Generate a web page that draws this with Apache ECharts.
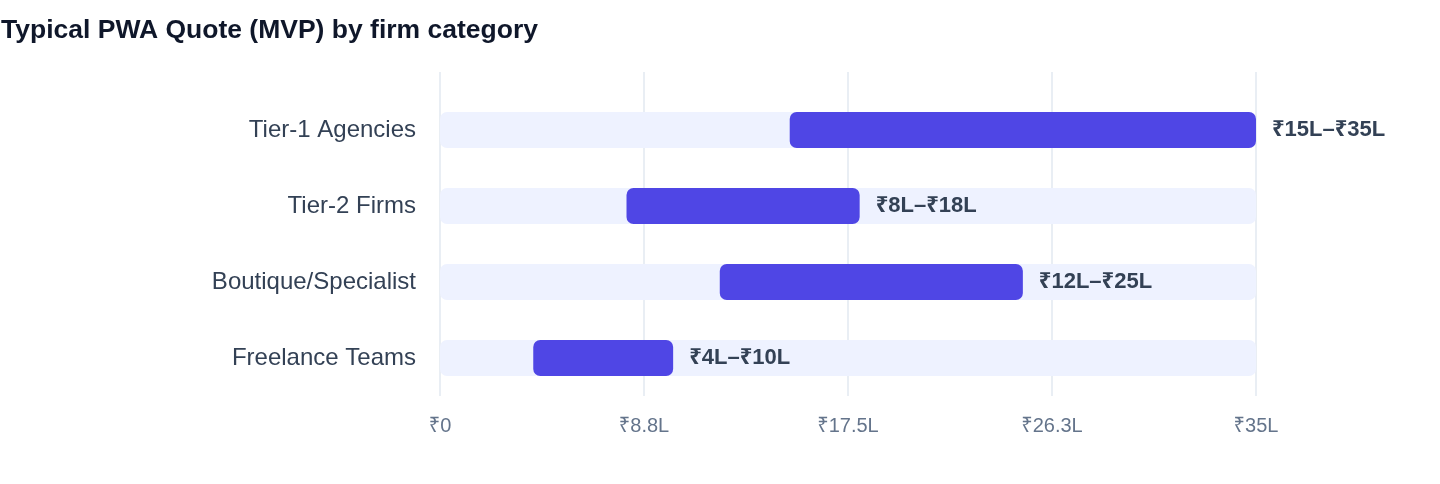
<!DOCTYPE html>
<html>
<head>
<meta charset="utf-8">
<style>
  html, body { margin: 0; padding: 0; background: #ffffff; }
  #chart { width: 1440px; height: 484px; }
</style>
<script src="https://cdn.jsdelivr.net/npm/echarts@6/dist/echarts.min.js"></script>
</head>
<body>
<div id="chart"></div>
<script>
const categories = ['Tier-1 Agencies', 'Tier-2 Firms', 'Boutique/Specialist', 'Freelance Teams'];
const lowValues = [15, 8, 12, 4];
const highValues = [35, 18, 25, 10];
const trackMax = 35;
const tickLabels = ['₹0', '₹8.8L', '₹17.5L', '₹26.3L', '₹35L'];
const rangeLabels = ['₹15L–₹35L', '₹8L–₹18L', '₹12L–₹25L', '₹4L–₹10L'];

const FONT = '"Liberation Sans", Arial, Helvetica, "Noto Sans", sans-serif';
const chart = echarts.init(document.getElementById('chart'), null, { renderer: 'canvas' });

const trackData = categories.map(() => trackMax);
const spanData = highValues.map((h, i) => h - lowValues[i]);

chart.setOption({
  animation: false,
  backgroundColor: '#ffffff',
  textStyle: { fontFamily: FONT },
  title: {
    text: 'Typical PWA Quote (MVP) by firm category',
    left: 1,
    top: 17,
    padding: 0,
    textStyle: { fontFamily: FONT, fontSize: 26.5, fontWeight: 'bold', color: '#0f172a' }
  },
  grid: [
    { left: 440, right: 184, top: 72, bottom: 88, containLabel: false },
    { left: 440, right: 184, top: 92, bottom: 88, containLabel: false }
  ],
  xAxis: [
    {
      gridIndex: 0,
      type: 'value',
      min: 0,
      max: 35,
      interval: 8.75,
      axisLine: { show: false },
      axisTick: { show: false },
      splitLine: { show: true, lineStyle: { color: '#e2e8f0', width: 1.5 } },
      axisLabel: {
        margin: 20,
        fontSize: 20,
        color: '#64748b',
        fontFamily: FONT,
        formatter: (v, i) => tickLabels[i]
      }
    },
    {
      gridIndex: 1,
      type: 'value',
      min: 0,
      max: 35,
      show: false
    }
  ],
  yAxis: [
    { gridIndex: 0, type: 'value', show: false, min: 0, max: 1 },
    {
      gridIndex: 1,
      type: 'category',
      data: categories,
      inverse: true,
      axisLine: { show: false },
      axisTick: { show: false },
      splitLine: { show: false },
      axisLabel: { margin: 24, fontSize: 24, color: '#334155', fontFamily: FONT }
    }
  ],
  series: [
    {
      name: 'track',
      type: 'bar',
      xAxisIndex: 1,
      yAxisIndex: 1,
      data: trackData,
      barWidth: 36,
      barGap: '-100%',
      itemStyle: { color: '#eef2ff', borderRadius: 7 },
      silent: true,
      z: 1
    },
    {
      name: 'base',
      type: 'bar',
      xAxisIndex: 1,
      yAxisIndex: 1,
      stack: 'range',
      data: lowValues,
      barWidth: 36,
      barGap: '-100%',
      itemStyle: { color: 'rgba(0,0,0,0)' },
      silent: true,
      z: 2
    },
    {
      name: 'range',
      type: 'bar',
      xAxisIndex: 1,
      yAxisIndex: 1,
      stack: 'range',
      data: spanData,
      barWidth: 36,
      barGap: '-100%',
      itemStyle: { color: '#4f46e5', borderRadius: 7 },
      label: {
        show: true,
        position: 'right',
        distance: 16,
        fontSize: 22,
        fontWeight: 'bold',
        color: '#334155',
        fontFamily: FONT,
        formatter: (p) => rangeLabels[p.dataIndex]
      },
      z: 3
    }
  ]
});
</script>
</body>
</html>
